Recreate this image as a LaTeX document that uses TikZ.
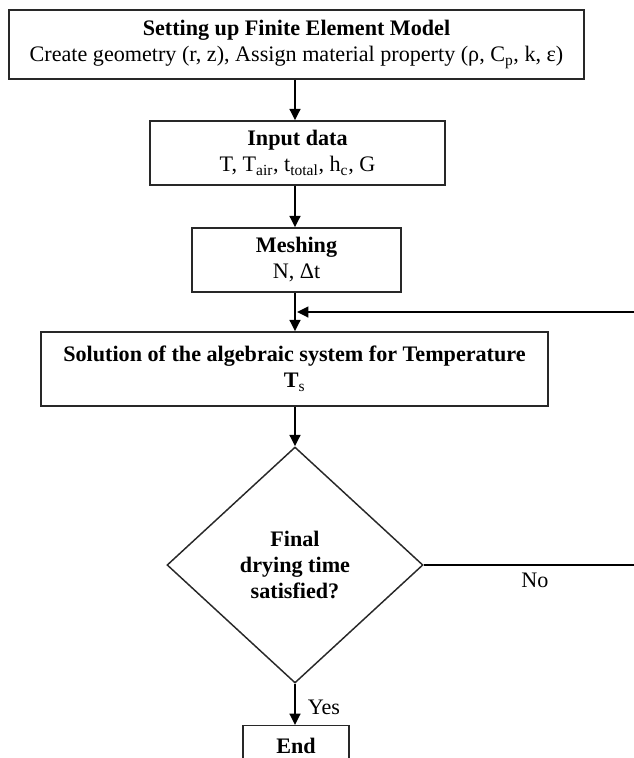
\documentclass[tikz,border=0pt]{standalone}
\usepackage{fontspec}
\setmainfont{Liberation Serif}
\usetikzlibrary{shapes.geometric,arrows.meta}

\tikzset{every picture/.style={line width=0.75pt}}
\tikzset{
  procbox/.style={draw={rgb,255:red,40;green,40;blue,40}, line width=1.1pt, rectangle, align=center, inner sep=0.75pt},
  decbox/.style={draw={rgb,255:red,40;green,40;blue,40}, line width=1.1pt, diamond, align=center, inner sep=0pt, font=\bfseries},
  flow/.style={line width=1.7pt, -{Triangle[length=8.5pt,width=8pt]}},
  lbl/.style={inner sep=0.75pt}
}

\begin{document}
\begin{tikzpicture}[x=0.75pt,y=0.75pt,yscale=-1,xscale=1]
	\fontsize{16.6}{19.5}\selectfont
	%set diagram left start at 0, and has height of 758
	\path[use as bounding box] (0,0) rectangle (634,758);
	\clip (0,0) rectangle (634,758);

	%Flowchart: Process [id:model]
	\node [procbox, minimum width=431.25pt, minimum height=51.75pt] (model) at (296.5,44.5)
	  {\textbf{Setting up Finite Element Model}\\Create geometry (r, z), Assign material property (ρ, C\textsubscript{p}, k, ε)};
	%Flowchart: Process [id:input]
	\node [procbox, minimum width=221.25pt, minimum height=48pt] (input) at (297.5,153)
	  {\textbf{Input data}\\T, T\textsubscript{air}, t\textsubscript{total}, h\textsubscript{c}, G};
	%Flowchart: Process [id:mesh]
	\node [procbox, minimum width=156.75pt, minimum height=48pt] (mesh) at (296.5,260)
	  {\textbf{Meshing}\\N, Δt};
	%Flowchart: Process [id:solve]
	\node [procbox, minimum width=380.25pt, minimum height=55.5pt] (solve) at (294.5,369)
	  {\textbf{Solution of the algebraic system for Temperature}\\\textbf{T}\textsubscript{s}};
	%Flowchart: Decision [id:check]
	\node [decbox, minimum width=192pt, minimum height=177pt] (check) at (295,565)
	  {Final\\drying time\\satisfied?};
	%Flowchart: Terminator [id:finish]
	\node [procbox, anchor=north, minimum width=79.5pt, minimum height=30pt] (finish) at (296,725)
	  {\textbf{End}};

	%Return point, outside the page
	\coordinate (loop) at (640,312);

	%Straight Lines
	\draw [flow] (model.south -| check) -- (input.north -| check);
	\draw [flow] (input.south -| check) -- (mesh.north -| check);
	\draw [flow] (mesh.south -| check) -- (solve.north -| check);
	\draw [flow] (solve.south -| check) -- (check.north);
	\draw [flow] (check.south) -- (finish.north -| check);
	\draw [flow] (check.east) -- (check.east -| loop) -- (loop) -- ([xshift=1.5pt]loop -| check);

	% Text Node
	\node [lbl] (yes) at (324,707) {Yes};
	% Text Node
	\node [lbl] (no) at (535,580) {No};

\end{tikzpicture}
\end{document}
